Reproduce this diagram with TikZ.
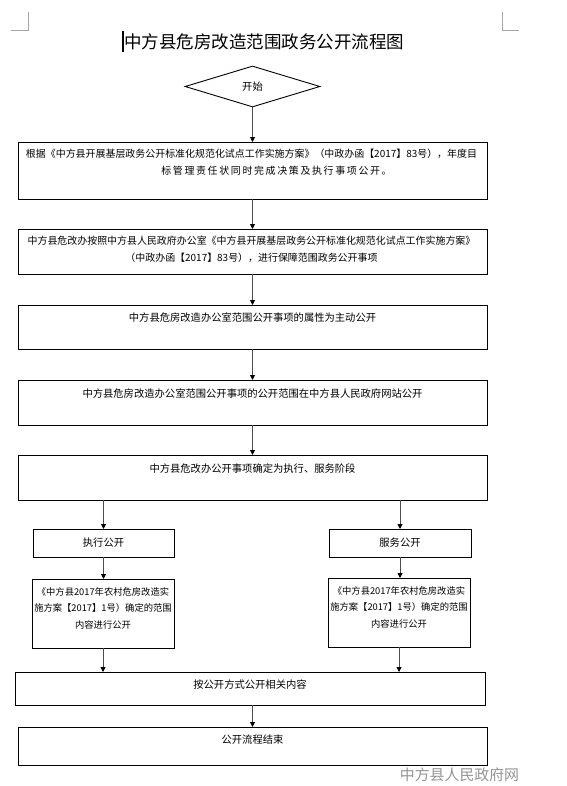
\documentclass[tikz,border=0pt]{standalone}
\usepackage{fontspec}
\setmainfont{Noto Sans CJK SC}
\usetikzlibrary{arrows.meta,shapes.geometric}
\makeatletter
\newcommand\spacedchars[1]{\@tfor\myc:=#1\do{\myc\hspace{1.65bp}}}
\makeatother
\begin{document}
\begin{tikzpicture}[x=1bp,y=-1bp,
  bx/.style={draw=black,line width=0.9bp,rectangle,inner sep=0pt,outer sep=0pt},
  txt/.style={font=\fontsize{10.3bp}{18bp}\selectfont,inner sep=0pt,align=center},
  widetxt/.style={font=\fontsize{9.95bp}{17.5bp}\selectfont,inner sep=0pt,align=center},
  smalltxt/.style={font=\fontsize{9.3bp}{16.5bp}\selectfont,inner sep=0pt,align=center},
  arr/.style={draw=black!70,line width=0.9bp,-{Triangle[width=5bp,length=5bp,color=black]}},
  corner/.style={draw=black!35,line width=0.7bp}]
\useasboundingbox (0,0) rectangle (567,786);

% page corner marks
\coordinate (cl1) at (11,30);
\coordinate (cl2) at (28,30);
\coordinate (cl3) at (28,12);
\coordinate (cr1) at (502,12);
\coordinate (cr2) at (502,30);
\coordinate (cr3) at (519,30);
\draw[corner] (cl1) -- (cl2) -- (cl3);
\draw[corner] (cr1) -- (cr2) -- (cr3);

% title and cursor
\node[inner sep=0pt,font=\fontsize{17.5bp}{17.5bp}\selectfont] (title) at (264,42) {中方县危房改造范围政务公开流程图};
\coordinate (cur1) at (123,31);
\coordinate (cur2) at (123,52);
\draw[line width=1.3bp] (cur1) -- (cur2);

% start diamond
\node[diamond,draw=black,line width=0.9bp,inner sep=0pt,aspect=3.3,minimum width=135bp,minimum height=41bp] (d) at (252.5,86.5) {};
\node[txt] (td) at (252.5,87) {开始};

% main boxes
\node[bx,minimum width=469bp,minimum height=57bp] (b1) at (252.5,170.5) {};
\node[widetxt] (t1) at (251.5,162) {根据《中方县开展基层政务公开标准化规范化试点工作实施方案》（中政办函【2017】83号），年度目\\\hspace*{50bp}\spacedchars{标管理责任状同时完成决策及执行事项公开。}};

\node[bx,minimum width=469bp,minimum height=45bp] (b2) at (252.5,251.5) {};
\node[widetxt] (t2) at (251.5,249.5) {中方县危改办按照中方县人民政府办公室《中方县开展基层政务公开标准化规范化试点工作实施方案》\\（中政办函【2017】83号），进行保障范围政务公开事项};

\node[bx,minimum width=469bp,minimum height=44bp] (b3) at (252.5,327) {};
\node[txt] (t3) at (252.5,318) {中方县危房改造办公室范围公开事项的属性为主动公开};

\node[bx,minimum width=469bp,minimum height=45bp] (b4) at (252.5,402.5) {};
\node[txt] (t4) at (252.5,394) {中方县危房改造办公室范围公开事项的公开范围在中方县人民政府网站公开};

\node[bx,minimum width=469bp,minimum height=45bp] (b5) at (252.5,477.5) {};
\node[txt] (t5) at (252.5,469) {中方县危改办公开事项确定为执行、服务阶段};

% branches
\node[bx,minimum width=141bp,minimum height=28bp] (b6) at (103.5,543) {};
\node[txt] (t6) at (103.5,543) {执行公开};
\node[bx,minimum width=142bp,minimum height=28bp] (b7) at (400,543) {};
\node[txt] (t7) at (400,543) {服务公开};

\node[bx,minimum width=142bp,minimum height=69bp] (b8) at (103,613.5) {};
\node[smalltxt] (t8) at (103,608) {《中方县2017年农村危房改造实\\施方案【2017】1号）确定的范围\\内容进行公开};
\node[bx,minimum width=142bp,minimum height=69bp] (b9) at (399,612.5) {};
\node[smalltxt] (t9) at (399,607) {《中方县2017年农村危房改造实\\施方案【2017】1号）确定的范围\\内容进行公开};

\node[bx,minimum width=470bp,minimum height=33bp] (b10) at (250,688.5) {};
\node[txt] (t10) at (250,685) {按公开方式公开相关内容};

\node[bx,minimum width=469bp,minimum height=38bp] (b11) at (252.5,746) {};
\node[txt] (t11) at (252.5,740) {公开流程结束};

% watermark
\node[inner sep=0pt,text=black!42,font=\fontsize{14.9bp}{14.9bp}\selectfont] (wm) at (459.5,775) {中方县人民政府网};

% connectors
\draw[arr] (d.south) -- (d.south |- b1.north);
\draw[arr] (b1.south) -- (b2.north);
\draw[arr] (b2.south) -- (b3.north);
\draw[arr] (b3.south) -- (b4.north);
\draw[arr] (b4.south) -- (b5.north);
\draw[arr] (b5.south -| b6.north) -- (b6.north);
\draw[arr] (b5.south -| b7.north) -- (b7.north);
\draw[arr] (b6.south) -- (b6.south |- b8.north);
\draw[arr] (b7.south) -- (b7.south |- b9.north);
\draw[arr] (b8.south) -- (b8.south |- b10.north);
\draw[arr] (b9.south) -- (b9.south |- b10.north);
\draw[arr] (b10.south -| b11.north) -- (b11.north);
\end{tikzpicture}
\end{document}
